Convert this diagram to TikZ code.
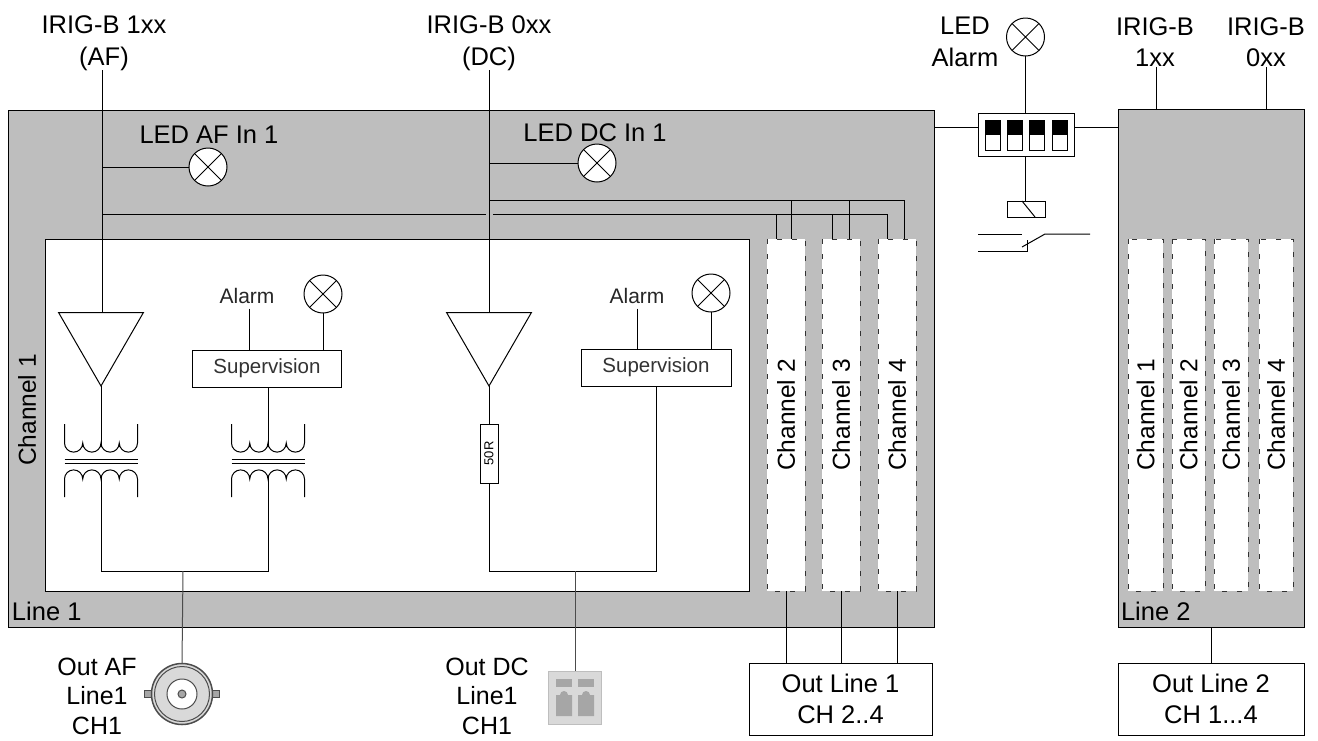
\documentclass[tikz,border=0pt]{standalone}
\usepackage{fontspec}
\setmainfont{Liberation Sans}
\usetikzlibrary{shapes,calc,backgrounds}
\definecolor{blockgray}{HTML}{BEBEBE}
\definecolor{termgray}{HTML}{D9D9D9}
\definecolor{pingray}{HTML}{A6A6A6}

\begin{document}
\begin{tikzpicture}[x=1pt,y=-1pt,line width=1pt,font=\fontsize{25.5}{31.5}\selectfont,
block/.style={draw,fill=blockgray},
txt/.style={inner sep=0,outer sep=0,align=center},
small/.style={txt,font=\fontsize{21}{24}\selectfont,text=black!85},
lamp/.style={circle,draw,fill=white,minimum size=38,inner sep=0,outer sep=0,
path picture={\draw (path picture bounding box.north west)--(path picture bounding box.south east)
(path picture bounding box.north east)--(path picture bounding box.south west);}},
amp/.style={regular polygon,regular polygon sides=3,shape border rotate=180,draw,minimum size=98,inner sep=0,outer sep=0},
superv/.style={draw,fill=white,minimum width=149,minimum height=37,inner sep=0,outer sep=0,font=\fontsize{20.5}{24}\selectfont,text=black!80},
chanbox/.style={draw=black!80,line width=.6pt,dash pattern=on 5pt off 10pt,fill=white,rotate=90,minimum width=352,minimum height=38,inner sep=0,outer sep=0,font=\fontsize{24.5}{28}\selectfont},
outbox/.style={draw,fill=white,minimum height=72,inner sep=0,outer sep=0,align=center},
outlabel/.style={txt,font=\fontsize{25}{29.5}\selectfont},
dipcell/.style={draw,fill=white,minimum width=15,minimum height=30,inner sep=0,outer sep=0,
path picture={\fill[black] (path picture bounding box.north west) rectangle (path picture bounding box.east);}},
feed/.style={draw=black!70},
xfmr/.pic={
\coordinate (-top) at (0,-16);
\coordinate (-bot) at (0,16);
\draw (-36.5,-37) -- (-36.5,-18) \foreach \i in {1,...,4} {arc[start angle=180,end angle=360,radius=9.125pt]} -- (36.5,-37);
\draw (-36.5,-2) -- (36.5,-2) (-36.5,2) -- (36.5,2);
\draw (-36.5,36) -- (-36.5,18) \foreach \i in {1,...,4} {arc[start angle=180,end angle=0,radius=9.125pt]} -- (36.5,36);
}]
\useasboundingbox (0,0) rectangle (1318,740);

% blocks
\node[block,inner sep=0,outer sep=0,minimum width=926,minimum height=517] (line1) at (471,368.5) {};
\node[block,inner sep=0,outer sep=0,minimum width=186,minimum height=518] (line2) at (1211,368) {};
\node[draw,fill=white,inner sep=0,outer sep=0,minimum width=704,minimum height=352] (inner) at (397,415) {};
\node[txt,anchor=south west] (line1txt) at (12,621) {Line 1};
\node[txt,anchor=south west] (line2txt) at (1121,621) {Line 2};
\node[txt,rotate=90,font=\fontsize{24.5}{28}\selectfont] (ch1txt) at (27,410) {Channel 1};

\node[chanbox] (ch2) at (786,415) {Channel 2};
\node[chanbox] (ch3) at (841,415) {Channel 3};
\node[chanbox] (ch4) at (897,415) {Channel 4};
\node[chanbox,minimum height=35] (r1) at (1145.5,415) {Channel 1};
\node[chanbox,minimum height=33] (r2) at (1188.5,415) {Channel 2};
\node[chanbox,minimum height=34] (r3) at (1231,415) {Channel 3};
\node[chanbox,minimum height=34] (r4) at (1276,415) {Channel 4};

% inputs
\node[txt] (irigaf) at (104,43) {IRIG-B 1xx\\(AF)};
\node[txt] (irigdc) at (489,43) {IRIG-B 0xx\\(DC)};
\node[amp] (ampaf) at (101,337) {};
\node[amp] (ampdc) at (489,337) {};
\node[lamp] (ledaf) at (208,167) {};
\node[lamp] (leddc) at (597,163) {};
\node[txt] (ledaftxt) at (209,135) {LED AF In 1};
\node[txt] (leddctxt) at (595,133) {LED DC In 1};
\draw (irigaf.south) ++(-2,0) coordinate (aftop) -- (aftop|-ampaf.side 2) coordinate (afamp);
\draw (irigdc.south) -- (ampdc.side 2);
\coordinate (afled) at (aftop|-ledaf);
\coordinate (dcled) at (irigdc.south|-leddc);
\draw (afled) -- (ledaf);
\draw (dcled) -- (leddc);

% busses to the other channels
\coordinate (afbus) at (aftop|-0,214);
\coordinate (dcbus) at (irigdc.south|-0,200);
\draw (afbus) -- (486,214);
\draw (493,214) -- (887,214) -- (887,239) coordinate (afd4);
\foreach \ch/\dx in {ch2/-10,ch3/-9} {\draw ([xshift=\dx pt]\ch.east) -- ([xshift=\dx pt]\ch.east|-afbus);}
\draw (dcbus) -| ([xshift=7pt]ch4.east);
\foreach \ch/\dx in {ch2/5,ch3/8} {\draw ([xshift=\dx pt]\ch.east) -- ([xshift=\dx pt]\ch.east|-dcbus);}

% AF path
\node[small] (alarma) at (247,296) {Alarm};
\node[lamp] (lampa) at (323,294) {};
\node[superv] (supa) at (267,368.5) {Supervision};
\draw (alarma.south-|249,0) ++(0,5) coordinate (alarmaend) -- (alarmaend|-supa.north);
\draw (lampa) -- (lampa|-supa.north);
\pic (xfa) at (101,461) {xfmr};
\pic (xfb) at (268,461) {xfmr};
\draw (ampaf.corner 1) -- (xfa-top);
\draw (supa.south-|xfb-top) -- (xfb-top);
\coordinate (sumaf) at (183,571);
\draw (xfa-bot) |- (sumaf);
\draw (xfb-bot) |- (sumaf);

% DC path
\node[small] (alarmb) at (637,296) {Alarm};
\node[lamp] (lampb) at (711,293) {};
\node[superv,minimum width=150] (supb) at (656,367.5) {Supervision};
\draw (alarmb.south) ++(0,5) coordinate (alarmbend) -- (alarmbend|-supb.north);
\draw (lampb) -- (lampb|-supb.north);
\node[draw,fill=white,rotate=90,minimum width=59,minimum height=18,inner sep=0,outer sep=0,font=\fontsize{13}{15}\selectfont] (resr) at (489,453.5) {50R};
\draw (ampdc.corner 1) -- (resr.east);
\coordinate (sumdc) at (575,571);
\draw (resr.west) |- (sumdc);
\draw (supb.south) |- (sumdc);

% outputs
\fill[black!70] (144,690) rectangle (220,698);
\fill[pingray] (145,691) rectangle (219,697);
\node[circle,draw=black!70,fill=termgray,line width=1.5pt,minimum size=61,inner sep=0,outer sep=0] (bnc) at (182,694) {};
\draw[black!70] (bnc) circle[radius=27.5pt];
\node[circle,draw=black!70,fill=white,minimum size=30,inner sep=0] (bncin) at (bnc) {};
\node[circle,draw=black!70,fill=pingray,minimum size=8,inner sep=0] (bncpin) at (bnc) {};
\draw[feed] (sumaf) -- (bnc.north);
\node[outlabel] (outaf) at (97,696) {Out AF\\Line1\\CH1};

\node[draw=blockgray,fill=termgray,minimum size=53,inner sep=0,outer sep=0] (term) at (574.5,697.5) {};
\foreach \x in {564,586} {
\fill[pingray] (\x-8,679) rectangle (\x+8,687);
\fill[pingray] (\x-8,716) -- (\x-8,695) -- (\x-4,695) arc[start angle=180,end angle=0,radius=4pt] -- (\x+8,695) -- (\x+8,716) -- cycle;
}
\draw[feed] (sumdc) -- (term.north-|sumdc);
\node[outlabel] (outdc) at (487,696) {Out DC\\Line1\\CH1};

\node[outbox,minimum width=183] (out1) at (840.5,699) {Out Line 1\\CH 2..4};
\node[outbox,minimum width=186] (out2) at (1211,699) {Out Line 2\\CH 1...4};
\foreach \ch in {ch2,ch3,ch4} {\draw (\ch.west) -- (\ch.west|-out1.north);}
\draw (line2.south) -- (out2.north);

% alarm side
\node[draw,fill=white,inner sep=0,outer sep=0,minimum width=96,minimum height=43] (dip) at (1026,134.5) {};
\foreach \x/\n in {992.5/a,1014.5/b,1037/c,1059.5/d} {\node[dipcell] (dip\n) at (\x,135) {};}
\node[lamp] (ledal) at (1025.5,37) {};
\node[txt] (ledaltxt) at (965,42) {LED\\Alarm};
\node[txt] (irigr1) at (1155,42) {IRIG-B\\1xx};
\node[txt] (irigr2) at (1266,42) {IRIG-B\\0xx};
\draw (irigr1.south-|1156,0) -- (1156,0|-line2.north);
\draw (irigr2.south) -- (irigr2.south|-line2.north);
\draw (ledal) -- (ledal|-dip.north);
\draw (line1.east|-0,127) -- (dip.west|-0,127);
\draw (dip.east|-0,127) -- (line2.west|-0,127);
\node[draw,minimum width=38,minimum height=16,inner sep=0,outer sep=0] (relay) at (1026,209) {};
\draw (dip.south-|ledal) -- (relay.north-|ledal);
\draw ($(relay.north west)+(15,0)$) -- ($(relay.south east)+(-10,0)$);
\coordinate (ctla) at (978,234);
\coordinate (ctlb) at (978,251);
\coordinate (ctlc) at (1027,251);
\coordinate (ctld) at (1045,234);
\coordinate (ctle) at (1090,234);
\draw (ctla) -- (1022,234);
\draw (ctlb) -- (ctlc) -- (1027,240);
\draw (1022,247) -- (ctld) -- (ctle);
\end{tikzpicture}
\end{document}
